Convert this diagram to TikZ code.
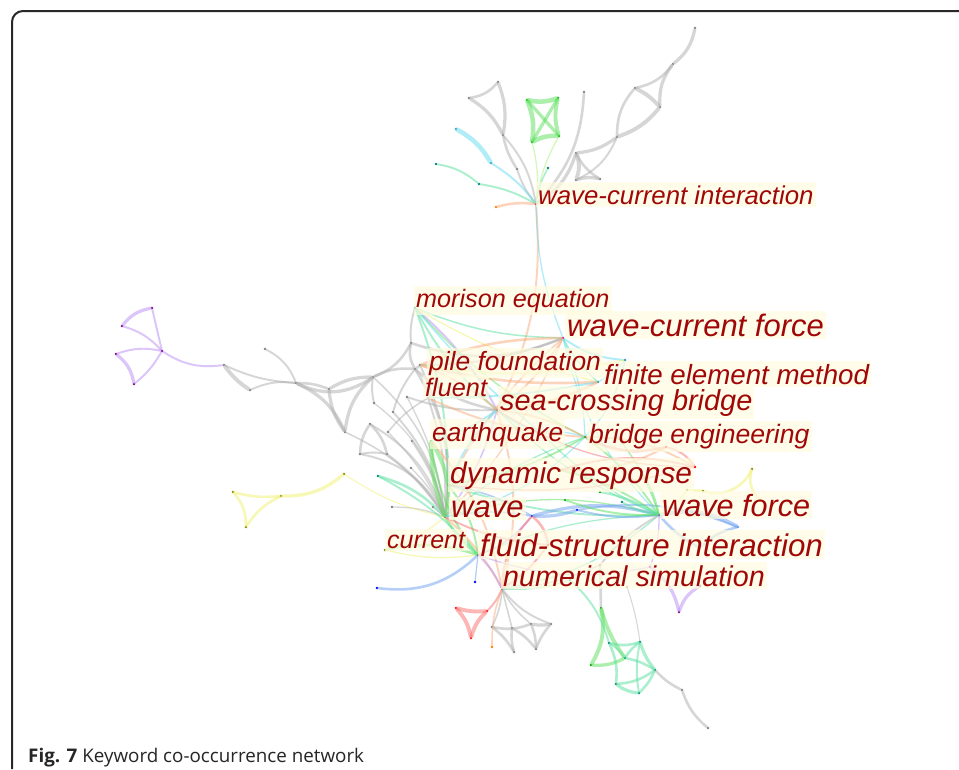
\documentclass[tikz,border=0pt]{standalone}
\usepackage{fontspec}
\setmainfont{Liberation Sans}
\newfontfamily\capfont{Open Sans}
\definecolor{cgr}{RGB}{175,175,175}
\definecolor{cgn}{RGB}{90,225,90}
\definecolor{cgl}{RGB}{170,240,120}
\definecolor{cpu}{RGB}{185,140,245}
\definecolor{cye}{RGB}{240,240,110}
\definecolor{cte}{RGB}{90,225,160}
\definecolor{ccy}{RGB}{100,220,240}
\definecolor{cor}{RGB}{250,170,120}
\definecolor{cre}{RGB}{250,110,110}
\definecolor{cbl}{RGB}{110,160,240}
\definecolor{labc}{RGB}{160,8,8}
\definecolor{lbg}{RGB}{255,252,225}
\definecolor{framec}{RGB}{40,40,40}
\newcommand\fz[1]{\fontsize{#1}{#1}\selectfont}
\newcommand\ek[5]{\draw[#1,line width=1.3*#2pt] (#3) to[bend left=#4] (#5);}
\tikzset{
  dot/.style={circle,inner sep=0pt,minimum size=2.6pt,fill=#1},
  ebase/.style={opacity=0.5,line cap=round},
  eG/.style={ebase,draw=cgr},
  eGr/.style={ebase,draw=cgn},
  eGl/.style={ebase,draw=cgl},
  ePu/.style={ebase,draw=cpu},
  eY/.style={ebase,draw=cye},
  eT/.style={ebase,draw=cte},
  eC/.style={ebase,draw=ccy},
  eO/.style={ebase,draw=cor},
  eR/.style={ebase,draw=cre},
  eB/.style={ebase,draw=cbl},
  lbl/.style={anchor=base west,text=labc,fill=lbg,fill opacity=0.7,text opacity=1,inner xsep=2pt,inner ysep=3pt},
}
\begin{document}
\begin{tikzpicture}[x=1pt,y=-1pt]
\useasboundingbox (0,0) rectangle (959,769);
\fill[white] (0,0) rectangle (959,769);
\draw[framec,line width=2pt,rounded corners=11pt] (12,769) -- (12,11) -- (959,11);

% ---------- nodes ----------
\foreach \n/\x/\y/\c in {
  H1/536/204/magenta,
  a1/695/28/gray, a2/673/64/gray, a3/635/88/gray, a4/660/107/gray, a5/617/137/gray, a6/576/153/gray, a7/576/180/gray, a8/600/179/gray,
  g1/527/100/green!60!black, g2/558/98/green!60!black, g3/559/136/green!60!black, g4/532/142/green!60!black,
  b1/498/82/gray, b2/469/98/gray, b3/503/135/gray, b4/517/169/gray, b5/584/92/gray,
  c1/456/129/cyan!60!black, c2/491/163/cyan!60!black,
  t1/436/164/teal, t2/479/184/teal, t3/548/168/teal,
  o1/496/207/orange,
  p1/152/308/violet, p2/122/326/violet, p3/162/351/violet, p4/116/354/violet, p5/134/384/violet, p6/224/365/gray,
  q1/250/390/gray, q2/265/349/gray, q3/296/383/gray, q4/329/389/gray, q5/373/377/gray, q6/345/432/gray, q7/411/343/gray, q8/415/369/gray,
  r1/370/424/gray, r2/360/454/gray, r3/387/454/gray, r4/393/412/gray, r5/407/397/gray, r6/374/403/gray, r7/388/432/gray, r8/412/441/gray, r9/411/468/gray, r10/378/476/teal, r11/392/507/gray, r12/433/507/gray,
  y1/233/492/olive, y2/246/527/olive, y3/281/496/olive, y4/344/474/olive,
  M/415/308/teal, H2/563/338/magenta, PF/420/365/gray, FE/598/382/cyan!70!black, FL/428/398/gray,
  SB/497/410/brown, EQ/431/441/green!60!black, BE/585/437/green!60!black, DR/448/485/green!60!black,
  W/445/517/gray, WF/659/515/violet, CU/385/550/olive, FSI/478/555/violet, NS/502/589/gray,
  BL/532/516/blue, BL2/577/510/blue, RD1/666/447/red, RD2/695/467/red,
  YR0/687/490/olive, YR1/703/491/olive, YR2/752/469/olive, YR3/760/500/olive,
  X1/738/527/cbl, X3/700/548/cbl, PU0/650/567/violet, PU1/679/612/violet, PU2/700/586/violet,
  ca/625/360/cyan!70!black, cb/540/432/cyan!70!black, cd/640/470/green!60!black, ce/560/470/green!60!black,
  cl/600/492/green!60!black, cm/622/502/teal, cn/565/500/green!60!black,
  cf/570/580/teal, cg/600/565/gray, ch/612/430/green!60!black, ci/475/582/blue, ck/548/545/red, BLL/377/588/blue,
  r1b/456/608/red, r2b/487/611/red, r3b/471/638/red,
  s1/492/627/gray, s2/512/628/gray, s3/531/624/gray, s4/551/624/gray, s5/514/652/gray, s6/536/649/gray, ob/492/647/orange,
  G1/601/608/green!60!black, G2/591/665/green!60!black, G3/609/643/teal, G4/625/658/teal, G5/640/642/teal, G6/655/670/teal, G7/616/684/teal, G8/639/693/teal,
  T1/682/690/gray, T2/708/728/gray, gx/627/587/gray}
  {\node[dot=\c] (\n) at (\x,\y) {};}

% ---------- upper cluster ----------
\ek{eG}{2.5}{H1}{-20}{a6}
\ek{eG}{2.5}{a6}{-15}{a5}
\ek{eG}{2}{a5}{20}{a3}
\ek{eG}{3}{a5}{-15}{a4}
\ek{eG}{3}{a3}{10}{a4}
\ek{eG}{2}{a3}{-20}{a2}
\ek{eG}{2.5}{a4}{20}{a2}
\ek{eG}{2.5}{a2}{-20}{a1}
\ek{eG}{3}{a6}{20}{a7}
\ek{eG}{2.5}{a7}{15}{a8}
\ek{eG}{2}{a6}{-15}{a8}
\ek{eG}{1.5}{a5}{20}{a7}
\ek{eG}{2}{H1}{-20}{b5}
\ek{eG}{1.5}{H1}{10}{b4}
\ek{eG}{2}{b4}{10}{b3}
\ek{eG}{2.5}{b3}{-15}{b1}
\ek{eG}{2}{b1}{20}{b2}
\ek{eG}{2.5}{b2}{15}{b3}
\ek{eG}{1.5}{H1}{-15}{b3}
\ek{eGr}{3.5}{g1}{-15}{g2}
\ek{eGr}{3}{g2}{-15}{g3}
\ek{eGr}{3.5}{g3}{-15}{g4}
\ek{eGr}{3.5}{g4}{-15}{g1}
\ek{eGr}{2.5}{g1}{0}{g3}
\ek{eGr}{2.5}{g2}{0}{g4}
\ek{eGl}{1}{H1}{-10}{g4}
\ek{eGl}{1}{H1}{10}{g3}
\ek{eC}{3.5}{c1}{15}{c2}
\ek{eC}{1.5}{c2}{10}{H1}
\ek{eT}{1.5}{t1}{15}{t2}
\ek{eT}{1.5}{t2}{10}{H1}
\ek{eT}{1.2}{t3}{-10}{H1}
\ek{eO}{2}{o1}{10}{H1}
\ek{eO}{1.5}{H1}{15}{SB}
\ek{eC}{1}{H1}{-10}{H2}

% ---------- left clusters ----------
\ek{ePu}{2.5}{p1}{-20}{p2}
\ek{ePu}{1.5}{p2}{15}{p3}
\ek{ePu}{1.5}{p1}{0}{p3}
\ek{ePu}{1.5}{p3}{-15}{p4}
\ek{ePu}{2.5}{p4}{20}{p5}
\ek{ePu}{1.5}{p3}{10}{p5}
\ek{ePu}{1.5}{p3}{-20}{p6}
\ek{eG}{3}{p6}{-10}{q1}
\ek{eG}{1.5}{p6}{-10}{q3}
\ek{eG}{1.5}{q1}{15}{q3}
\ek{eG}{1.5}{q2}{20}{q3}
\ek{eG}{2}{q3}{10}{q4}
\ek{eG}{2.5}{q4}{15}{q5}
\ek{eG}{2.5}{q3}{20}{q6}
\ek{eG}{2.5}{q4}{-15}{q6}
\ek{eG}{2.5}{q5}{-20}{q6}
\ek{eG}{2.5}{q3}{-30}{q5}
\ek{eG}{2}{q5}{-20}{q7}
\ek{eG}{2}{q7}{-20}{q8}
\ek{eG}{2}{q5}{15}{q8}
\ek{eG}{1.2}{q5}{20}{W}
\ek{eG}{1.2}{q6}{15}{W}
\ek{eG}{2}{q7}{-20}{H2}
\ek{eG}{2}{q8}{-15}{SB}
\ek{eG}{1.5}{q7}{10}{M}
\ek{eG}{2}{PF}{10}{q8}
\ek{eG}{2}{r1}{-15}{r2}
\ek{eG}{2}{r1}{15}{r3}
\ek{eG}{1.5}{r2}{10}{r3}
\ek{eG}{1.5}{r1}{20}{W}
\ek{eG}{1.5}{r2}{25}{W}
\ek{eG}{1.5}{r3}{10}{W}
\ek{eG}{1.5}{r4}{15}{W}
\ek{eG}{1}{r5}{10}{W}
\ek{eG}{1}{r6}{20}{W}
\ek{eG}{1}{r7}{10}{W}
\ek{eG}{1.5}{r8}{10}{W}
\ek{eG}{1}{r9}{10}{W}
\ek{eG}{1}{r11}{10}{W}
\ek{eT}{2}{r10}{15}{W}
\ek{eG}{1}{r12}{0}{W}
\ek{eG}{1.5}{r6}{10}{q5}
\ek{eG}{1.5}{r4}{10}{q8}
\ek{eG}{1.2}{r7}{10}{FL}
\ek{eG}{1.5}{r5}{-10}{SB}
\ek{eG}{1.5}{FL}{10}{W}
\ek{eG}{2}{q8}{20}{W}
\ek{eG}{1.5}{PF}{15}{W}
\ek{eY}{2}{y1}{20}{y2}
\ek{eY}{2}{y2}{15}{y3}
\ek{eY}{2}{y1}{-10}{y3}
\ek{eY}{2.5}{y3}{-20}{y4}
\ek{eY}{0.8}{y4}{-10}{W}

% ---------- centre ----------
\ek{eT}{1.2}{M}{-10}{H2}
\ek{ePu}{1.5}{M}{10}{SB}
\ek{eT}{1.5}{M}{-10}{SB}
\ek{eY}{1}{M}{-8}{FE}
\ek{eGr}{1}{M}{-10}{BE}
\ek{eC}{1.2}{M}{-5}{cb}
\ek{eT}{1.5}{M}{10}{DR}
\ek{eO}{1.5}{H2}{10}{SB}
\ek{eT}{1}{H2}{-10}{FE}
\ek{eO}{1}{H2}{10}{W}
\ek{eO}{1.2}{H2}{-10}{DR}
\ek{eC}{1.5}{H2}{-15}{ca}
\ek{eC}{1}{H2}{10}{BE}
\ek{eC}{1}{H2}{-15}{WF}
\ek{eO}{2}{PF}{-8}{FE}
\ek{eO}{2}{PF}{10}{H2}
\ek{eY}{1.5}{PF}{-10}{ca}
\ek{eG}{1.5}{PF}{-10}{H2}
\ek{eO}{1.5}{PF}{10}{SB}
\ek{eO}{1.5}{FL}{-10}{BE}
\ek{eC}{1.5}{FL}{-5}{FE}
\ek{eO}{2}{SB}{-10}{FE}
\ek{eO}{1.5}{SB}{10}{BE}
\ek{ePu}{1.2}{SB}{10}{W}
\ek{eC}{1.5}{SB}{-10}{DR}
\ek{eC}{1.5}{SB}{10}{EQ}
\ek{eC}{1.5}{SB}{-10}{cb}
\ek{eT}{1}{SB}{-10}{WF}
\ek{eO}{1.5}{SB}{15}{NS}
\ek{eR}{1}{SB}{-15}{RD2}
\ek{eR}{2}{BE}{-20}{RD1}
\ek{eGr}{1.5}{BE}{10}{WF}
\ek{eGr}{1.5}{BE}{10}{DR}
\ek{eT}{1}{BE}{-10}{W}
\ek{eO}{1.5}{BE}{15}{RD2}
\ek{eT}{1.5}{DR}{-10}{WF}
\ek{eB}{1.2}{DR}{10}{BL}
\ek{eGr}{1.5}{DR}{15}{FSI}
\ek{eR}{1}{DR}{-10}{RD2}
\ek{eGr}{3}{EQ}{10}{DR}
\ek{eGr}{3}{EQ}{-10}{W}
\ek{eGr}{1.5}{EQ}{-15}{FSI}
\ek{eO}{1.5}{EQ}{15}{NS}
\ek{eGr}{2.5}{DR}{10}{W}
\ek{eGr}{1}{W}{15}{WF}
\ek{eB}{1.5}{W}{10}{BL}
\ek{eGr}{2}{W}{-10}{FSI}
\ek{eO}{1.5}{W}{10}{NS}
\ek{eY}{1}{W}{10}{CU}
\ek{eC}{1}{W}{-15}{BE}
\ek{eR}{1.5}{W}{-10}{ck}
\ek{eT}{1.5}{r10}{10}{FSI}
\ek{eY}{1}{CU}{-10}{FSI}
\ek{eB}{2.5}{WF}{-15}{BL}
\ek{eT}{1}{WF}{-10}{FSI}
\ek{eT}{1}{WF}{15}{NS}
\ek{eB}{3}{WF}{20}{X1}
\ek{eB}{2}{X1}{-15}{X3}
\ek{eB}{2}{WF}{-10}{X3}
\ek{eY}{1.5}{WF}{-10}{YR0}
\ek{eY}{2}{YR0}{0}{YR1}
\ek{eY}{2}{YR1}{-40}{YR2}
\ek{eY}{2}{YR2}{-30}{YR3}
\ek{eB}{2.5}{BL}{-10}{BL2}
\ek{eB}{1.5}{BL2}{-10}{WF}
\ek{eB}{1.5}{BL2}{15}{X1}
\ek{ePu}{1.5}{BL}{15}{FSI}
\ek{eR}{1.5}{BL}{-20}{NS}
\ek{eR}{2}{BL}{20}{ck}
\ek{eR}{1.5}{ck}{10}{NS}
\ek{ePu}{1.5}{FSI}{10}{NS}
\ek{eGr}{2}{FSI}{-15}{CU}
\ek{eB}{1}{FSI}{0}{ci}
\ek{eB}{2}{BLL}{-25}{FSI}
\ek{ePu}{1}{WF}{10}{PU0}
\ek{ePu}{2.5}{PU0}{20}{PU1}
\ek{ePu}{2.5}{PU1}{20}{PU2}
\ek{ePu}{1}{FSI}{-15}{PU0}
\ek{eGr}{1.5}{cd}{10}{WF}
\ek{eGr}{1.5}{ce}{10}{WF}
\ek{eGr}{1}{ch}{10}{WF}
\ek{eT}{1.5}{cl}{10}{WF}
\ek{eT}{1.5}{cm}{-10}{WF}
\ek{eGr}{1.5}{cn}{-10}{WF}
\ek{eC}{1}{cb}{10}{BE}
\ek{eT}{1}{cb}{-10}{WF}
\ek{eR}{1.5}{RD1}{20}{RD2}
\ek{eO}{1.5}{ce}{-15}{RD1}
\ek{eR}{1.5}{ce}{15}{RD2}
\ek{eC}{1}{ca}{10}{FE}
\ek{eC}{1}{ca}{15}{BE}
\ek{eT}{1}{cf}{10}{NS}
\ek{eG}{1}{cg}{10}{NS}
\ek{eG}{1.5}{cg}{10}{WF}

% ---------- bottom ----------
\ek{eG}{2}{G1}{0}{cg}
\ek{eR}{1.5}{NS}{10}{r2b}
\ek{eR}{3}{r1b}{-10}{r2b}
\ek{eR}{3}{r2b}{-15}{r3b}
\ek{eR}{3}{r1b}{15}{r3b}
\ek{eG}{1.2}{NS}{10}{s1}
\ek{eG}{1.2}{NS}{0}{s2}
\ek{eG}{1.2}{NS}{-10}{s3}
\ek{eG}{1.5}{NS}{-15}{s4}
\ek{eG}{2}{s1}{10}{s5}
\ek{eG}{2}{s2}{-10}{s5}
\ek{eG}{2}{s3}{10}{s6}
\ek{eG}{2}{s4}{-10}{s6}
\ek{eG}{2.5}{s3}{-10}{s4}
\ek{eG}{2}{s1}{-15}{s3}
\ek{eG}{2}{s2}{10}{s6}
\ek{eO}{1.2}{NS}{-10}{ob}
\ek{eGr}{3}{G1}{20}{G2}
\ek{eGr}{3}{G1}{-10}{G4}
\ek{eGr}{2.5}{G2}{-15}{G4}
\ek{eT}{2}{G3}{-15}{G5}
\ek{eT}{1.5}{G3}{10}{G4}
\ek{eT}{2}{G4}{10}{G5}
\ek{eT}{2.5}{G5}{-10}{G6}
\ek{eT}{2}{G4}{10}{G6}
\ek{eT}{2}{G3}{15}{G7}
\ek{eT}{2.5}{G7}{-15}{G8}
\ek{eT}{2}{G6}{10}{G8}
\ek{eT}{1.5}{G5}{-10}{G8}
\ek{eT}{2}{G7}{-15}{G6}
\ek{eG}{2}{G6}{-10}{T1}
\ek{eG}{2}{T1}{-15}{T2}
\ek{eT}{1.5}{cf}{15}{G3}
\ek{eG}{0.8}{gx}{5}{G5}

% ---------- labels ----------
\node[lbl,font=\itshape\fz{25.8}] (l1) at (536,204) {wave-current interaction};
\node[lbl,font=\itshape\fz{25.2}] (l2) at (414,307) {morison equation};
\node[lbl,font=\itshape\fz{31}] (l3) at (565,336) {wave-current force};
\node[lbl,font=\itshape\fz{26.4}] (l4) at (427,370) {pile foundation};
\node[lbl,font=\itshape\fz{27.7}] (l5) at (602,384) {finite element method};
\node[lbl,font=\itshape\fz{25.3}] (l6) at (423,396) {fluent};
\node[lbl,font=\itshape\fz{28.9}] (l7) at (498,410) {sea-crossing bridge};
\node[lbl,font=\itshape\fz{26.2}] (l8) at (430,441) {earthquake};
\node[lbl,font=\itshape\fz{26.6}] (l9) at (587,443) {bridge engineering};
\node[lbl,font=\itshape\fz{29.8}] (l10) at (448,483) {dynamic response};
\node[lbl,font=\itshape\fz{31}] (l11) at (449,517) {wave};
\node[lbl,font=\itshape\fz{30.6}] (l12) at (660,516) {wave force};
\node[lbl,font=\itshape\fz{25}] (l13) at (385,548) {current};
\node[lbl,font=\itshape\fz{31.3}] (l14) at (478,556) {fluid-structure interaction};
\node[lbl,font=\itshape\fz{28.7}] (l15) at (501,586) {numerical simulation};

% ---------- caption ----------
\node[anchor=base west,inner sep=0pt,font=\capfont\fz{18.8},text=black!85] (cap) at (28,762) {\textbf{Fig. 7} Keyword co-occurrence network};
\end{tikzpicture}
\end{document}
